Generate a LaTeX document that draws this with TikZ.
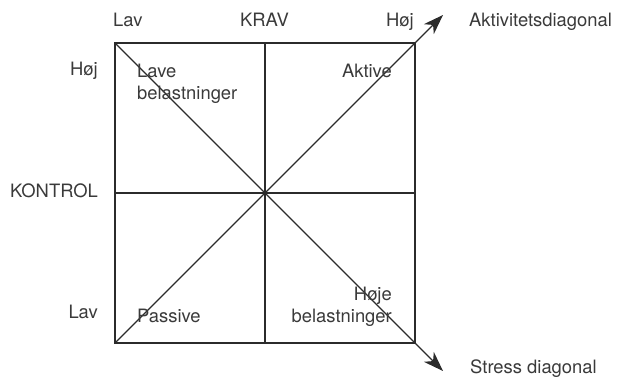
\documentclass[tikz,border=0pt]{standalone}
\usepackage{fontspec}
\setmainfont{TeX Gyre Heros}
\usetikzlibrary{arrows.meta}
\definecolor{ink}{HTML}{2B2B2B}
\definecolor{txt}{HTML}{3A3A3A}
\begin{document}
\begin{tikzpicture}[x=1pt,y=-1pt,
  lbl/.style={inner sep=0pt,text=txt,font=\fontsize{18.4}{20}\selectfont},
  frame/.style={draw=ink,line width=1.2pt},
  arr/.style={draw=ink,line width=1.2pt,-{Stealth[length=20pt,width=14pt,inset=6pt]}}]
\useasboundingbox (0,0) rectangle (618,377);
\coordinate (TL) at (115,43);
\coordinate (TR) at (415,43);
\coordinate (BL) at (115,343);
\coordinate (BR) at (415,343);
\coordinate (TM) at (265,43);
\coordinate (BM) at (265,343);
\coordinate (LM) at (115,193);
\coordinate (RM) at (415,193);
\coordinate (AT) at (443,15);
\coordinate (ST) at (443,371);
\draw[frame] (TL) rectangle (BR);
\draw[frame] (TM) -- (BM);
\draw[frame] (LM) -- (RM);
\draw[arr] (BL) -- (AT);
\draw[arr] (TL) -- (ST);
\node[lbl,anchor=base west] (lavtop) at (113,27) {Lav};
\node[lbl,anchor=base] (krav) at (264.5,27) {KRAV};
\node[lbl,anchor=base east] (hojtop) at (414,27) {Høj};
\node[lbl,anchor=base west] (akt) at (469,27) {Aktivitetsdiagonal};
\node[lbl,anchor=base east] (hojleft) at (98,76) {Høj};
\node[lbl,anchor=base east] (kontrol) at (98,197) {KONTROL};
\node[lbl,anchor=base east] (lavleft) at (98,318) {Lav};
\node[lbl,anchor=base west] (lave1) at (137,78) {Lave};
\node[lbl,anchor=base west] (lave2) at (137,100) {belastninger};
\node[lbl,anchor=base east] (aktive) at (392,78) {Aktive};
\node[lbl,anchor=base east] (hoje1) at (392,300) {Høje};
\node[lbl,anchor=base east] (hoje2) at (392,322) {belastninger};
\node[lbl,anchor=base west] (passive) at (137,322) {Passive};
\node[lbl,anchor=base west] (stress) at (470,373) {Stress diagonal};
\end{tikzpicture}
\end{document}
